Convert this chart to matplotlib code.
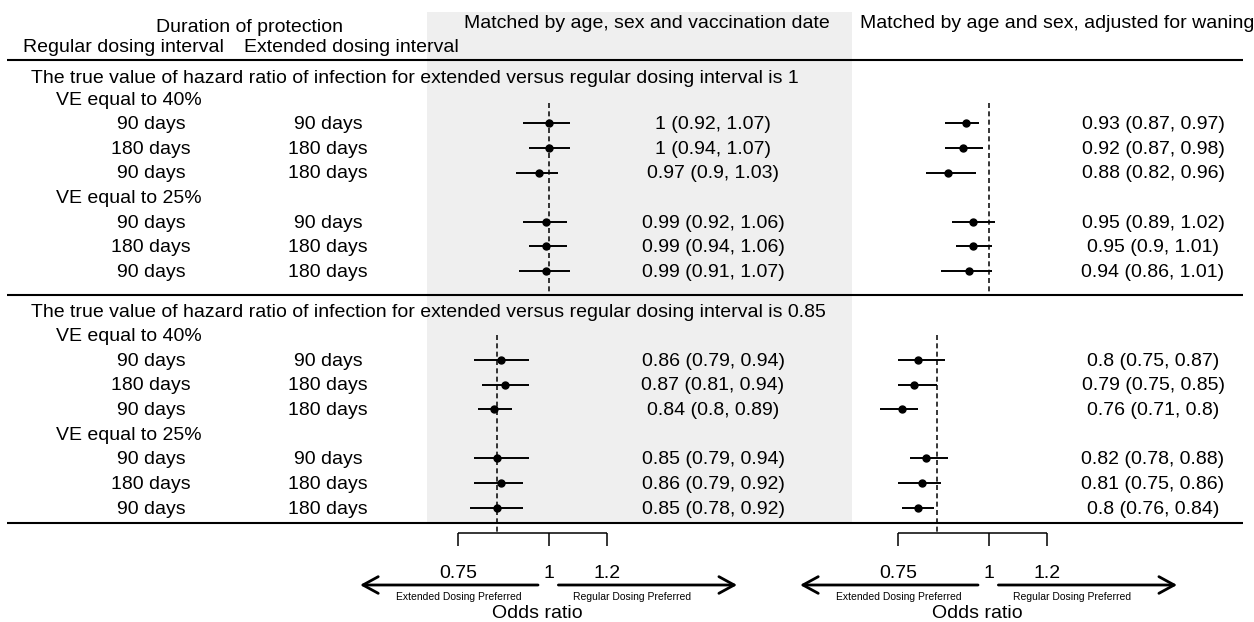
import numpy as np
import matplotlib.pyplot as plt
from matplotlib.patches import Rectangle

plt.rcParams['font.family'] = ['Liberation Sans', 'DejaVu Sans']
plt.rcParams['lines.scale_dashes'] = False

# data
section_titles = [
    'The true value of hazard ratio of infection for extended versus regular dosing interval is 1',
    'The true value of hazard ratio of infection for extended versus regular dosing interval is 0.85',
]
true_hr = [1, 0.85]
ve_groups = ['VE equal to 40%', 'VE equal to 25%']
regular = ['90 days', '180 days', '90 days']
extended = ['90 days', '180 days', '180 days']

# matched by age, sex and vaccination date
est_a = [[1, 1, 0.97, 0.99, 0.99, 0.99],
         [0.86, 0.87, 0.84, 0.85, 0.86, 0.85]]
lo_a = [[0.92, 0.94, 0.9, 0.92, 0.94, 0.91],
        [0.79, 0.81, 0.8, 0.79, 0.79, 0.78]]
hi_a = [[1.07, 1.07, 1.03, 1.06, 1.06, 1.07],
        [0.94, 0.94, 0.89, 0.94, 0.92, 0.92]]

# matched by age and sex, adjusted for waning
est_b = [[0.93, 0.92, 0.88, 0.95, 0.95, 0.94],
         [0.8, 0.79, 0.76, 0.82, 0.81, 0.8]]
lo_b = [[0.87, 0.87, 0.82, 0.89, 0.9, 0.86],
        [0.75, 0.75, 0.71, 0.78, 0.75, 0.76]]
hi_b = [[0.97, 0.98, 0.96, 1.02, 1.01, 1.01],
        [0.87, 0.85, 0.8, 0.88, 0.86, 0.84]]

ticks = [0.75, 1, 1.2]
tick_labels = ['0.75', '1', '1.2']

W, H = 1254, 622
PX = 317          # pixels per log unit
FS = 14
step = 24.6
dy = 1.5          # text nudge
sec_title_y = [77, 311]
sec_start_y = [98.7, 335.3]
sep_lines = [59.5, 295, 523]

fig = plt.figure(figsize=(12.54, 6.22), dpi=100)
canvas = fig.add_axes([0, 0, 1, 1])
canvas.set_xlim(0, W)
canvas.set_ylim(H, 0)
canvas.axis('off')

canvas.add_patch(Rectangle((427, 12), 425, 511, color='#efefef', lw=0, zorder=0))

# header
canvas.text(250, 27, 'Duration of protection', ha='center', va='center', fontsize=FS)
canvas.text(123, 47, 'Regular dosing interval', ha='center', va='center', fontsize=FS)
canvas.text(351, 47, 'Extended dosing interval', ha='center', va='center', fontsize=FS)
canvas.text(647, 23, 'Matched by age, sex and vaccination date', ha='center', va='center', fontsize=FS)
canvas.text(1057, 23, 'Matched by age and sex, adjusted for waning', ha='center', va='center', fontsize=FS)

for y in sep_lines:
    canvas.plot([7, 1243], [y, y], color='black', lw=1.5, solid_capstyle='butt')

rows_y = []
for s in range(2):
    canvas.text(31, sec_title_y[s] + dy, section_titles[s], ha='left', va='center', fontsize=FS)
    ys = []
    k = 0
    for g in range(2):
        canvas.text(56, sec_start_y[s] + step * k + dy, ve_groups[g], ha='left', va='center', fontsize=FS)
        k += 1
        for r in range(3):
            y = sec_start_y[s] + step * k
            canvas.text(151, y + dy, regular[r], ha='center', va='center', fontsize=FS)
            canvas.text(328, y + dy, extended[r], ha='center', va='center', fontsize=FS)
            ys.append(y)
            k += 1
    rows_y.append(ys)


def panel(center, est, lo, hi, label_x):
    xmin, xmax = 0.55, 1.85
    x0 = center + PX * np.log(xmin)
    x1 = center + PX * np.log(xmax)
    ax = fig.add_axes([x0 / W, 0, (x1 - x0) / W, 1])
    ax.set_xscale('log')
    ax.set_xlim(xmin, xmax)
    ax.set_ylim(H, 0)
    ax.axis('off')

    ref_span = [(103, 293), (335, 533)]
    for s in range(2):
        ax.vlines(true_hr[s], ref_span[s][0], ref_span[s][1], color='black', lw=1.1,
                  linestyles=(0, (3.6, 2.4)))
        ax.hlines(rows_y[s], lo[s], hi[s], color='black', lw=1.4)
        ax.plot(est[s], rows_y[s], 'o', color='black', ms=5)
        for y, e, l, h in zip(rows_y[s], est[s], lo[s], hi[s]):
            canvas.text(label_x, y + dy, f'{e:g} ({l:g}, {h:g})', ha='center', va='center', fontsize=FS)

    # axis bracket
    ax.hlines(533, ticks[0], ticks[-1], color='black', lw=1.1)
    ax.vlines(ticks, 533, 546, color='black', lw=1.1)
    for t, tl in zip(ticks, tick_labels):
        ax.text(t, 574, tl, ha='center', va='center', fontsize=FS)

    arrow = dict(arrowstyle='->,head_length=0.55,head_width=0.3', lw=2, color='black',
                 shrinkA=0, shrinkB=0, mutation_scale=20)
    ax.annotate('', xy=(0.551, 585), xytext=(0.966, 585), arrowprops=arrow)
    ax.annotate('', xy=(1.81, 585), xytext=(1.03, 585), arrowprops=arrow)
    ax.text(0.753, 597.5, 'Extended Dosing Preferred', ha='center', va='center', fontsize=7.5)
    ax.text(1.30, 597.5, 'Regular Dosing Preferred', ha='center', va='center', fontsize=7.5)
    ax.text(0.963, 613, 'Odds ratio', ha='center', va='center', fontsize=FS)
    return ax


panel(549, est_a, lo_a, hi_a, 713)
panel(989, est_b, lo_b, hi_b, 1153)

fig.savefig('out.png', dpi=100)
